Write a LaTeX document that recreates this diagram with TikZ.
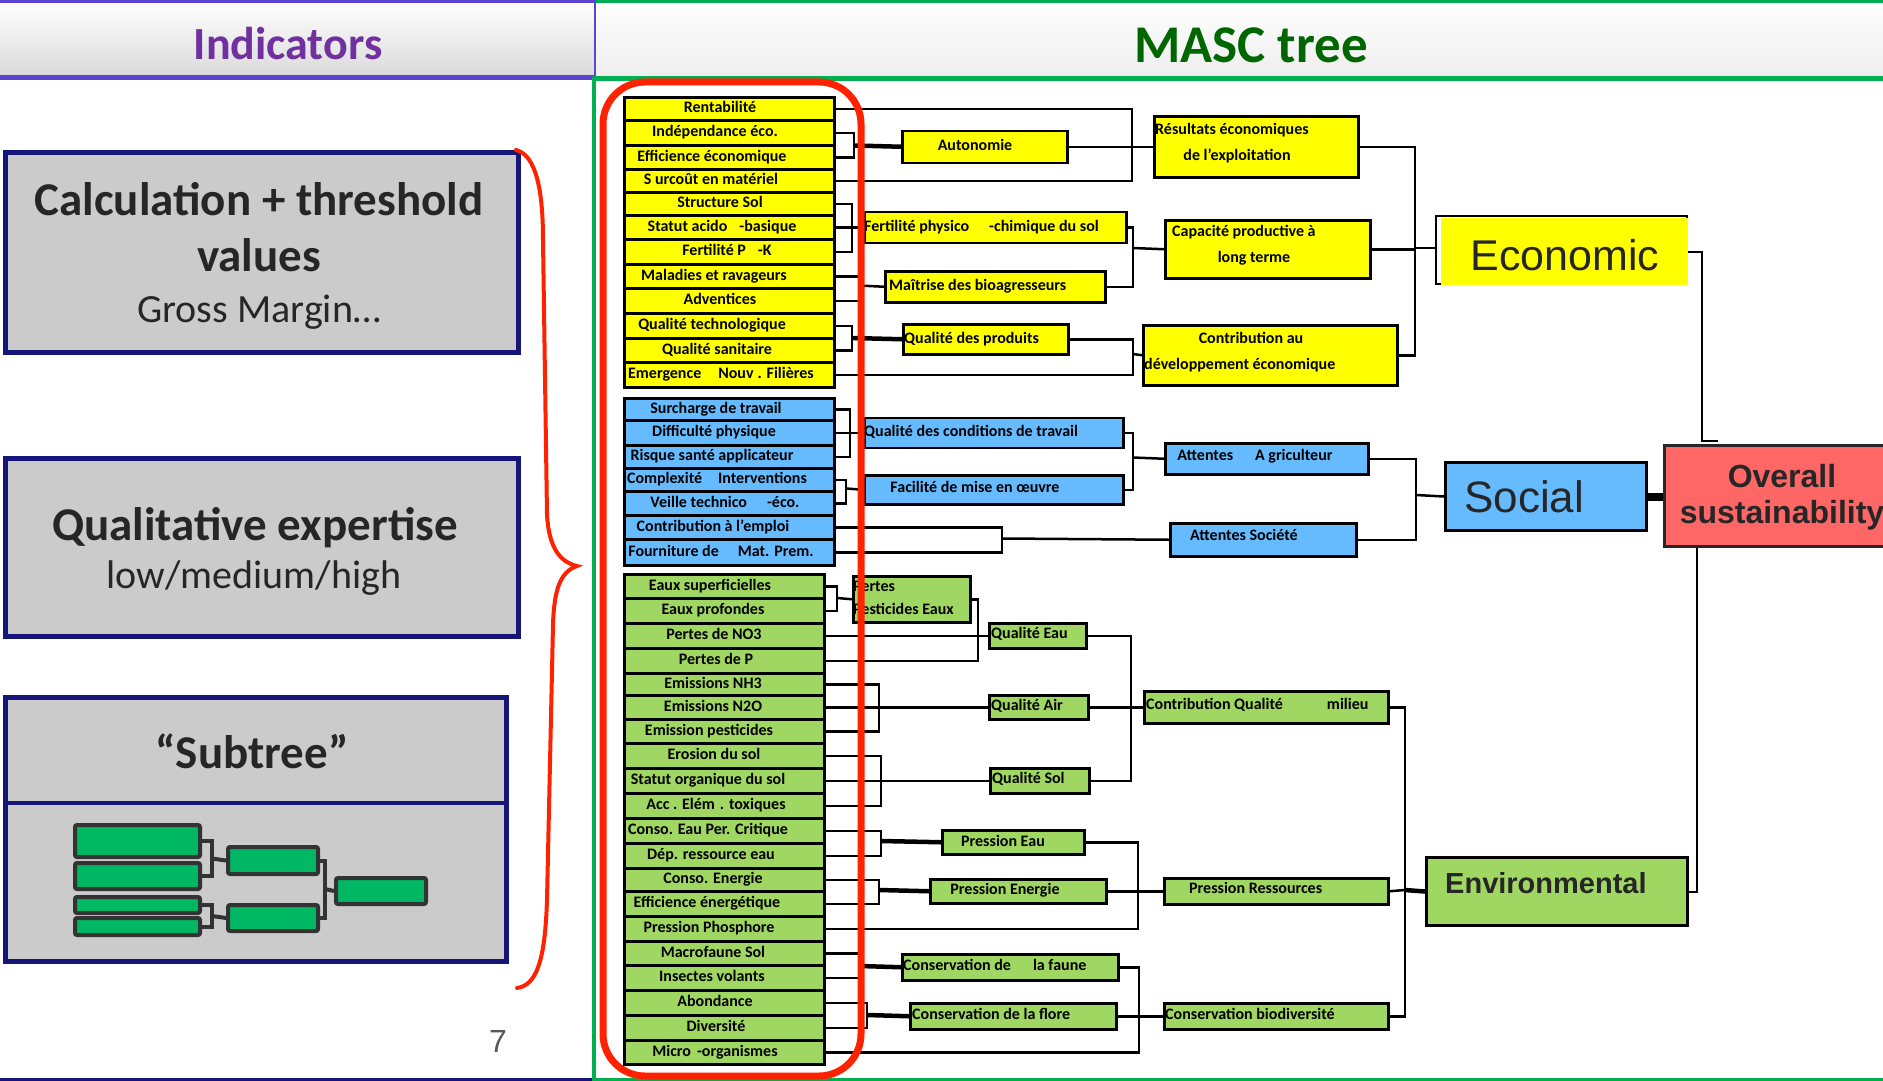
\documentclass[tikz,border=0pt]{standalone}
\usepackage{fontspec}
\setmainfont{Carlito}
\newfontfamily\arialfont{Liberation Sans}
\pgfdeclarelayer{back}
\pgfdeclarelayer{wires}
\pgfdeclarelayer{front}
\pgfsetlayers{back,wires,main,front}

\definecolor{lfyellow}{HTML}{FFFF00}
\definecolor{lfblue}{HTML}{66BBFF}
\definecolor{lfgreen}{HTML}{A0D662}
\definecolor{overallred}{HTML}{FF6666}
\definecolor{panelgray}{HTML}{CBCBCB}
\definecolor{navy}{HTML}{16167A}
\definecolor{minigreen}{HTML}{00B864}
\definecolor{minidark}{HTML}{333333}
\definecolor{bracered}{HTML}{FF2200}
\definecolor{hdrgreen}{HTML}{00B050}
\definecolor{hdrpurple}{HTML}{5A46D2}
\definecolor{indpurple}{HTML}{7030A0}
\definecolor{mascgreen}{HTML}{006600}
\definecolor{inkgray}{HTML}{262626}
\definecolor{pagegray}{HTML}{595959}

\newcommand\leaffont{\fontsize{16}{18}\selectfont\bfseries}
% box given by its corners: style, name, x1, y1, x2, y2
\newcommand\rbox[6]{%
  \pgfmathsetmacro\rbw{#5-#3}\pgfmathsetmacro\rbh{#6-#4}%
  \node[#1, minimum width=\rbw pt, minimum height=\rbh pt, anchor=north west] (#2) at (#3,#4) {};}
% indicator row: style, name, top, bottom, text centre x, text
\newcommand\leaf[6]{%
  \pgfmathsetmacro\rbh{#4-#3}\pgfmathsetmacro\rbc{(#3+#4)/2}%
  \node[#1, minimum height=\rbh pt, anchor=north west] (#2) at (623,#3) {};%
  \node[lt] (#2t) at (#5,\rbc) {#6};}

\tikzset{
  leafY/.style={draw=black, line width=2.5pt, fill=lfyellow, inner sep=0pt, minimum width=210pt},
  leafB/.style={draw=black, line width=2.5pt, fill=lfblue, inner sep=0pt, minimum width=210pt},
  leafG/.style={draw=black, line width=2.5pt, fill=lfgreen, inner sep=0pt, minimum width=200pt},
  boxY/.style={draw=black, line width=2.5pt, fill=lfyellow, inner sep=0pt},
  boxB/.style={draw=black, line width=2.5pt, fill=lfblue, inner sep=0pt},
  boxG/.style={draw=black, line width=2.5pt, fill=lfgreen, inner sep=0pt},
  lt/.style={font=\leaffont, inner sep=0pt, text height=10.3pt, text depth=0pt},
  wire/.style={line width=2.5pt},
  heavy/.style={line width=4.5pt},
  panel/.style={draw=navy, line width=4.5pt, fill=panelgray, inner sep=0pt},
  mini/.style={draw=minidark, line width=4pt, fill=minigreen, rounded corners=2pt, inner sep=0pt},
  miniwire/.style={draw=minidark, line width=4pt},
  bigbold/.style={font=\fontsize{47}{50}\selectfont\bfseries, text=inkgray, inner sep=0pt, text height=30pt, text depth=0pt},
  bigreg/.style={font=\fontsize{40}{44}\selectfont, text=inkgray, inner sep=0pt, text height=25.8pt, text depth=0pt},
  ecofont/.style={font=\arialfont\fontsize{43}{46}\selectfont, text=inkgray, inner sep=0pt, text height=30.8pt, text depth=0pt},
  socfont/.style={font=\arialfont\fontsize{44}{46}\selectfont, text=inkgray, inner sep=0pt, text height=31.5pt, text depth=0pt},
  ovfont/.style={font=\arialfont\fontsize{32}{34}\selectfont\bfseries, text=inkgray, inner sep=0pt, text height=22.9pt, text depth=0pt},
  envfont/.style={font=\arialfont\fontsize{29}{32}\selectfont\bfseries, text=inkgray, inner sep=0pt, text height=20.8pt, text depth=0pt},
}

\begin{document}
\begin{tikzpicture}[x=1pt,y=-1pt]
\useasboundingbox (0,0) rectangle (1883,1081);
\clip (0,0) rectangle (1883,1081);

% ---------- background, headers, left panels ----------
\begin{pgfonlayer}{back}
  \fill[white] (0,0) rectangle (1883,1081);
  \shade[top color=white, bottom color=black!15] (0,0) rectangle (595,79);
  \shade[top color=white, bottom color=black!7] (595,0) rectangle (1883,79);
  \draw[hdrpurple, line width=3pt] (0,1.5) -- (595,1.5);
  \draw[hdrpurple, line width=5pt] (0,78) -- (595,78);
  \draw[hdrpurple, line width=2pt] (595,0) -- (595,80);
  \draw[hdrgreen, line width=3pt] (596,1.5) -- (1883,1.5);
  \draw[hdrgreen, line width=5pt] (594,79) -- (1883,79);
  \draw[hdrgreen, line width=4pt] (594,77) -- (594,1081);
  \draw[hdrgreen, line width=3pt] (594,1079.5) -- (1883,1079.5);
  \draw[navy, line width=3pt] (0,1079.5) -- (592,1079.5);

  \rbox{panel}{calc}{3}{150}{516}{350}
  \rbox{panel}{qual}{3}{456}{516}{634}
  \rbox{panel}{subt}{3}{695}{504}{959}
  \draw[navy, line width=4.5pt] (subt.west |- 0,803) -- (subt.east |- 0,803);
\end{pgfonlayer}

\node[font=\fontsize{46}{48}\selectfont\bfseries, text=indpurple, inner sep=0pt, text height=29.6pt, text depth=0pt] (hInd) at (288,45) {Indicators};
\node[font=\fontsize{53}{56}\selectfont\bfseries, text=mascgreen, inner sep=0pt, text height=34.1pt, text depth=0pt] (hMasc) at (1251,45) {MASC tree};

\node[bigbold] (calc1) at (259,200) {Calculation + threshold};
\node[bigbold] (calc2) at (259,256) {values};
\node[bigreg] (calc3) at (259,310) {Gross Margin…};
\node[bigbold] (qual1) at (255,525) {Qualitative expertise};
\node[bigreg] (qual2) at (254,576) {low/medium/high};
\node[bigbold] (subt1) at (252,753) {“Subtree”};
\node[font=\arialfont\fontsize{32}{34}\selectfont, text=pagegray, inner sep=0pt, text height=23pt, text depth=0pt] (pagenum) at (498,1041) {7};

% small subtree sketch
\rbox{mini}{m1}{73}{823}{198}{855}
\rbox{mini}{m2}{73}{861}{198}{887}
\rbox{mini}{m3}{73}{895}{198}{911}
\rbox{mini}{m4}{73}{916}{198}{933}
\rbox{mini}{mm1}{226}{845}{316}{872}
\rbox{mini}{mm2}{226}{903}{316}{929}
\rbox{mini}{mf}{334}{876}{424}{902}
\begin{pgfonlayer}{wires}
  \coordinate (jm1) at (212,858.5);
  \coordinate (jm2) at (212,916);
  \coordinate (jm3) at (325,889);
  \draw[miniwire] (m1.east) -| (jm1); \draw[miniwire] (m2.east) -| (jm1); \draw[miniwire] (jm1) -- (mm1.west);
  \draw[miniwire] (m3.east) -| (jm2); \draw[miniwire] (m4.east) -| (jm2); \draw[miniwire] (jm2) -- (mm2.west);
  \draw[miniwire] (mm1.east) -| (jm3); \draw[miniwire] (mm2.east) -| (jm3); \draw[miniwire] (jm3) -- (mf.west);
\end{pgfonlayer}

% ---------- indicator rows ----------
\leaf{leafY}{Y1}{96}{119}{720}{Rentabilité}
\leaf{leafY}{Y2}{119}{144}{715}{Indépendance éco.}
\leaf{leafY}{Y3}{144}{168}{712}{Efficience économique}
\leaf{leafY}{Y4}{168}{191}{711}{S urcoût en matériel}
\leaf{leafY}{Y5}{191}{214}{720}{Structure Sol}
\leaf{leafY}{Y6}{214}{238}{722}{Statut acido\hspace{12pt}-basique}
\leaf{leafY}{Y7}{238}{263}{727}{Fertilité P\hspace{12pt}-K}
\leaf{leafY}{Y8}{263}{287}{714}{Maladies et ravageurs}
\leaf{leafY}{Y9}{287}{312}{720}{Adventices}
\leaf{leafY}{Y10}{312}{337}{712}{Qualité technologique}
\leaf{leafY}{Y11}{337}{361}{717}{Qualité sanitaire}
\leaf{leafY}{Y12}{361}{386}{721}{Emergence\hspace{17pt}Nouv\hspace{4pt}. Filières}

\leaf{leafB}{B1}{397}{419}{716}{Surcharge de travail}
\leaf{leafB}{B2}{419}{444}{714}{Difficulté physique}
\leaf{leafB}{B3}{444}{467}{712}{Risque santé applicateur}
\leaf{leafB}{B4}{467}{490}{717}{Complexité\hspace{16pt}Interventions}
\leaf{leafB}{B5}{490}{514}{725}{Veille technico\hspace{20pt}-éco.}
\leaf{leafB}{B6}{514}{538}{713}{Contribution à l’emploi}
\leaf{leafB}{B7}{538}{564}{721}{Fourniture de\hspace{19pt}Mat. Prem.}

\leaf{leafG}{G1}{573}{597}{710}{Eaux superficielles}
\leaf{leafG}{G2}{597}{622}{713}{Eaux profondes}
\leaf{leafG}{G3}{622}{647}{714}{Pertes de NO3}
\leaf{leafG}{G4}{647}{672}{716}{Pertes de P}
\leaf{leafG}{G5}{672}{694}{713}{Emissions NH3}
\leaf{leafG}{G6}{694}{718}{713}{Emissions N2O}
\leaf{leafG}{G7}{718}{742}{709}{Emission pesticides}
\leaf{leafG}{G8}{742}{767}{714}{Erosion du sol}
\leaf{leafG}{G9}{767}{792}{708}{Statut organique du sol}
\leaf{leafG}{G10}{792}{817}{716}{Acc . Elém\hspace{5pt}. toxiques}
\leaf{leafG}{G11}{817}{842}{708}{Conso. Eau Per. Critique}
\leaf{leafG}{G12}{842}{867}{711}{Dép. ressource eau}
\leaf{leafG}{G13}{867}{890}{713}{Conso. Energie}
\leaf{leafG}{G14}{890}{915}{707}{Efficience énergétique}
\leaf{leafG}{G15}{915}{940}{709}{Pression Phosphore}
\leaf{leafG}{G16}{940}{964}{713}{Macrofaune Sol}
\leaf{leafG}{G17}{964}{989}{712}{Insectes volants}
\leaf{leafG}{G18}{989}{1014}{715}{Abondance}
\leaf{leafG}{G19}{1014}{1039}{716}{Diversité}
\leaf{leafG}{G20}{1039}{1063}{715}{Micro\hspace{6pt}-organismes}

% ---------- aggregated attributes ----------
\rbox{boxY}{Auto}{901}{129.5}{1066}{161.5}
\rbox{boxY}{FPC}{863}{210.5}{1125}{241.5}
\rbox{boxY}{Mai}{884}{270}{1104}{301}
\rbox{boxY}{QdP}{902}{323}{1067}{353}
\rbox{boxY}{Res}{1153}{115}{1357}{176}
\rbox{boxY}{Cap}{1164}{219}{1369}{277}
\rbox{boxY}{CDE}{1142}{324}{1396}{384}
\rbox{draw=black, line width=2pt, inner sep=0pt}{Eco}{1435}{215}{1686}{283}
\rbox{fill=lfyellow, inner sep=0pt}{EcoF}{1441}{218}{1688}{285}

\rbox{boxB}{QCT}{863}{416.5}{1122}{446.5}
\rbox{boxB}{Fac}{863}{474}{1122}{503}
\rbox{boxB}{AA}{1164}{442}{1367}{473}
\rbox{boxB}{AS}{1169}{522}{1355}{555}
\rbox{draw=black, line width=3pt, fill=lfblue, inner sep=0pt}{Soc}{1444}{461}{1645}{529}

\rbox{boxG}{PPE}{852}{575}{969}{621}
\rbox{boxG}{QE}{988}{622}{1085}{647}
\rbox{boxG}{QA}{988}{694}{1087}{718}
\rbox{boxG}{QS}{989}{767}{1088}{792}
\rbox{boxG}{PEau}{941}{829}{1083}{853}
\rbox{boxG}{PEn}{929}{878}{1105}{902}
\rbox{boxG}{CF}{901}{953}{1117}{979}
\rbox{boxG}{CFl}{909}{1002}{1115}{1028}
\rbox{boxG}{CQM}{1143}{690}{1387}{722}
\rbox{boxG}{PR}{1163}{877}{1387}{903}
\rbox{boxG}{CB}{1163}{1002}{1387}{1028}
\rbox{draw=black, line width=3pt, fill=lfgreen, inner sep=0pt}{Env}{1425}{856}{1686}{924}

\rbox{draw=inkgray, line width=2.5pt, fill=overallred, inner sep=0pt}{Ovr}{1663}{444}{1925}{545}

% ---------- connectors ----------
\begin{pgfonlayer}{wires}
  % economic pillar
  \coordinate (jA) at (854,145.5);
  \draw[wire] (Y2.east) -| (jA); \draw[wire] (Y3.east) -| (jA); \draw[heavy] (jA) -- (Auto.west);
  \coordinate (jR) at (1132,145.5);
  \draw[wire] (Y1.east) -| (jR); \draw[wire] (Y4.east) -| (jR); \draw[wire] (Auto.east) -- (Res.west);
  \coordinate (jF) at (852,226);
  \draw[wire] (Y5.east) -| (jF); \draw[wire] (Y7.east) -| (jF); \draw[wire] (Y6.east) -- (FPC.west);
  \coordinate (jM) at (859,285.5);
  \draw[wire] (Y8.east) -| (jM); \draw[wire] (Y9.east) -| (jM); \draw[wire] (jM) -- (Mai.west);
  \coordinate (jQ) at (852,338);
  \draw[wire] (Y10.east) -| (jQ); \draw[wire] (Y11.east) -| (jQ); \draw[heavy] (jQ) -- (QdP.west);
  \coordinate (jC) at (1133,354);
  \draw[wire] (QdP.east) -| (jC); \draw[wire] (Y12.east) -| (jC); \draw[wire] (jC) -- (CDE.west);
  \coordinate (jK) at (1133,248);
  \draw[wire] (FPC.east) -| (jK); \draw[wire] (Mai.east) -| (jK); \draw[wire] (jK) -- (Cap.west);
  \coordinate (jE) at (1415,248);
  \draw[wire] (Res.east) -| (jE); \draw[wire] (Cap.east) -| (jE); \draw[wire] (CDE.east) -| (jE);
  \draw[wire] (jE) -- (jE -| Eco.west);
  \coordinate (jO1) at (1702,441); \coordinate (jO2) at (1718,441);
  \draw[line width=2pt] (EcoF.east) -| (jO1) -- (jO2);

  % social pillar
  \coordinate (jQC) at (850,431.5);
  \draw[wire] (B1.east) -| (jQC); \draw[wire] (B3.east) -| (jQC); \draw[wire] (B2.east) -- (QCT.west);
  \coordinate (jFa) at (846,488.5);
  \draw[wire] (B4.east) -| (jFa); \draw[wire] (B5.east) -| (jFa); \draw[wire] (jFa) -- (Fac.west);
  \coordinate (jAS) at (1002,538.5);
  \draw[wire] (B6.east) -| (jAS); \draw[wire] (B7.east) -| (jAS); \draw[wire] (jAS) -- (AS.west);
  \coordinate (jAA) at (1133,457.5);
  \draw[wire] (QCT.east) -| (jAA); \draw[wire] (Fac.east) -| (jAA); \draw[wire] (jAA) -- (AA.west);
  \coordinate (jSo) at (1416,495);
  \draw[wire] (AA.east) -| (jSo); \draw[wire] (AS.east) -| (jSo); \draw[wire] (jSo) -- (Soc.west);
  \draw[line width=8pt] (Soc.east) -- (Soc.east -| Ovr.west);

  % environmental pillar
  \coordinate (jPP) at (837,598);
  \draw[wire] (G1.east) -| (jPP); \draw[wire] (G2.east) -| (jPP); \draw[wire] (jPP) -- (PPE.west);
  \coordinate (jQE) at (978,634.5);
  \draw[wire] (PPE.east) -| (jQE); \draw[wire] (G4.east) -| (jQE); \draw[wire] (G3.east) -- (QE.west);
  \coordinate (jQA) at (879,706);
  \draw[wire] (G5.east) -| (jQA); \draw[wire] (G7.east) -| (jQA); \draw[wire] (G6.east) -- (QA.west);
  \coordinate (jQS) at (881,779.5);
  \draw[wire] (G8.east) -| (jQS); \draw[wire] (G10.east) -| (jQS); \draw[wire] (G9.east) -- (QS.west);
  \coordinate (jPE) at (881,841);
  \draw[wire] (G11.east) -| (jPE); \draw[wire] (G12.east) -| (jPE); \draw[heavy] (jPE) -- (PEau.west);
  \coordinate (jPN) at (879,890);
  \draw[wire] (G13.east) -| (jPN); \draw[wire] (G14.east) -| (jPN); \draw[heavy] (jPN) -- (PEn.west);
  \coordinate (jPR) at (1138,890);
  \draw[wire] (PEau.east) -| (jPR); \draw[wire] (G15.east) -| (jPR); \draw[wire] (PEn.east) -- (PR.west);
  \coordinate (jCQ) at (1131,706);
  \draw[wire] (QE.east) -| (jCQ); \draw[wire] (QS.east) -| (jCQ); \draw[wire] (QA.east) -- (CQM.west);
  \coordinate (jCF) at (860,966);
  \draw[wire] (G16.east) -| (jCF); \draw[wire] (G17.east) -| (jCF); \draw[heavy] (jCF) -- (CF.west);
  \coordinate (jCL) at (867,1015);
  \draw[wire] (G18.east) -| (jCL); \draw[wire] (G19.east) -| (jCL); \draw[heavy] (jCL) -- (CFl.west);
  \coordinate (jCB) at (1139,1015);
  \draw[wire] (CF.east) -| (jCB); \draw[wire] (G20.east) -| (jCB); \draw[wire] (CFl.east) -- (CB.west);
  \coordinate (jEn) at (1405,890);
  \draw[wire] (CQM.east) -| (jEn); \draw[wire] (CB.east) -| (jEn); \draw[wire] (PR.east) -- (jEn);
  \draw[heavy] (jEn) -- (Env.west);
  \coordinate (jO3) at (1697,545); \coordinate (jO4) at (1706,545);
  \draw[line width=2pt] (Env.east) -| (jO3) -- (jO4);
\end{pgfonlayer}

% ---------- labels of aggregated attributes ----------
\node[lt] (AutoT) at (975,145.5) {Autonomie};
\node[lt, anchor=west] (FPCt) at (864,226) {Fertilité physico\hspace{20pt}-chimique du sol};
\node[lt, anchor=west] (MaiT) at (889,285.5) {Maîtrise des bioagresseurs};
\node[lt, anchor=west] (QdPT) at (904,338) {Qualité des produits};
\node[lt, anchor=west] (ResT1) at (1155,129) {Résultats économiques};
\node[lt] (ResT2) at (1237,155) {de l’exploitation};
\node[lt, anchor=west] (CapT1) at (1172,231) {Capacité productive à};
\node[lt] (CapT2) at (1254,257) {long terme};
\node[lt] (CdeT1) at (1251,338) {Contribution au};
\node[lt, anchor=west] (CdeT2) at (1144,364) {développement économique};
\node[ecofont] (EcoT) at (1565,255) {Economic};

\node[lt, anchor=west] (QCTt) at (864,431.5) {Qualité des conditions de travail};
\node[lt] (FacT) at (975,487) {Facilité de mise en œuvre};
\node[lt] (AAt) at (1255,455) {Attentes\hspace{22pt}A\hspace{3.5pt}griculteur};
\node[lt, anchor=west] (ASt) at (1190,535) {Attentes Société};
\node[socfont, anchor=west] (SocT) at (1464,497) {Social};
\node[ovfont] (OvT1) at (1782,476) {Overall};
\node[ovfont] (OvT2) at (1782,512) {sustainability};

\node[lt, anchor=west] (PPEt1) at (853,586) {Pertes};
\node[lt, anchor=west] (PPEt2) at (853,609) {Pesticides Eaux};
\node[lt, anchor=west] (QEt) at (991,633) {Qualité Eau};
\node[lt, anchor=west] (QAt) at (991,705) {Qualité Air};
\node[lt, anchor=west] (QSt) at (992,778) {Qualité Sol};
\node[lt] (PEauT) at (1003,841) {Pression Eau};
\node[lt] (PEnT) at (1005,889) {Pression Energie};
\node[lt, anchor=west] (PRt) at (1189,888) {Pression Ressources};
\node[lt, anchor=west] (CQMt) at (1146,704) {Contribution Qualité\hspace{44pt}milieu};
\node[lt, anchor=west] (CFt) at (903,965) {Conservation de\hspace{22pt}la faune};
\node[lt, anchor=west] (CFlt) at (912,1014) {Conservation de la flore};
\node[lt, anchor=west] (CBt) at (1165,1014) {Conservation biodiversité};
\node[envfont, anchor=west] (EnvT) at (1445,883) {Environmental};

% ---------- red frame around the indicators and the brace ----------
\begin{pgfonlayer}{front}
  \draw[bracered, line width=7pt, rounded corners=42pt] (603,82) rectangle (861,1076);
  \draw[bracered, line width=4pt, line cap=round]
    (516,150) .. controls (536,155) and (543,190) .. (543,240)
    -- (547,515) .. controls (549,548) and (560,562) .. (577,566)
    .. controls (560,572) and (554,590) .. (553,625)
    -- (547,900) .. controls (545,960) and (537,985) .. (517,988);
\end{pgfonlayer}
\end{tikzpicture}
\end{document}
